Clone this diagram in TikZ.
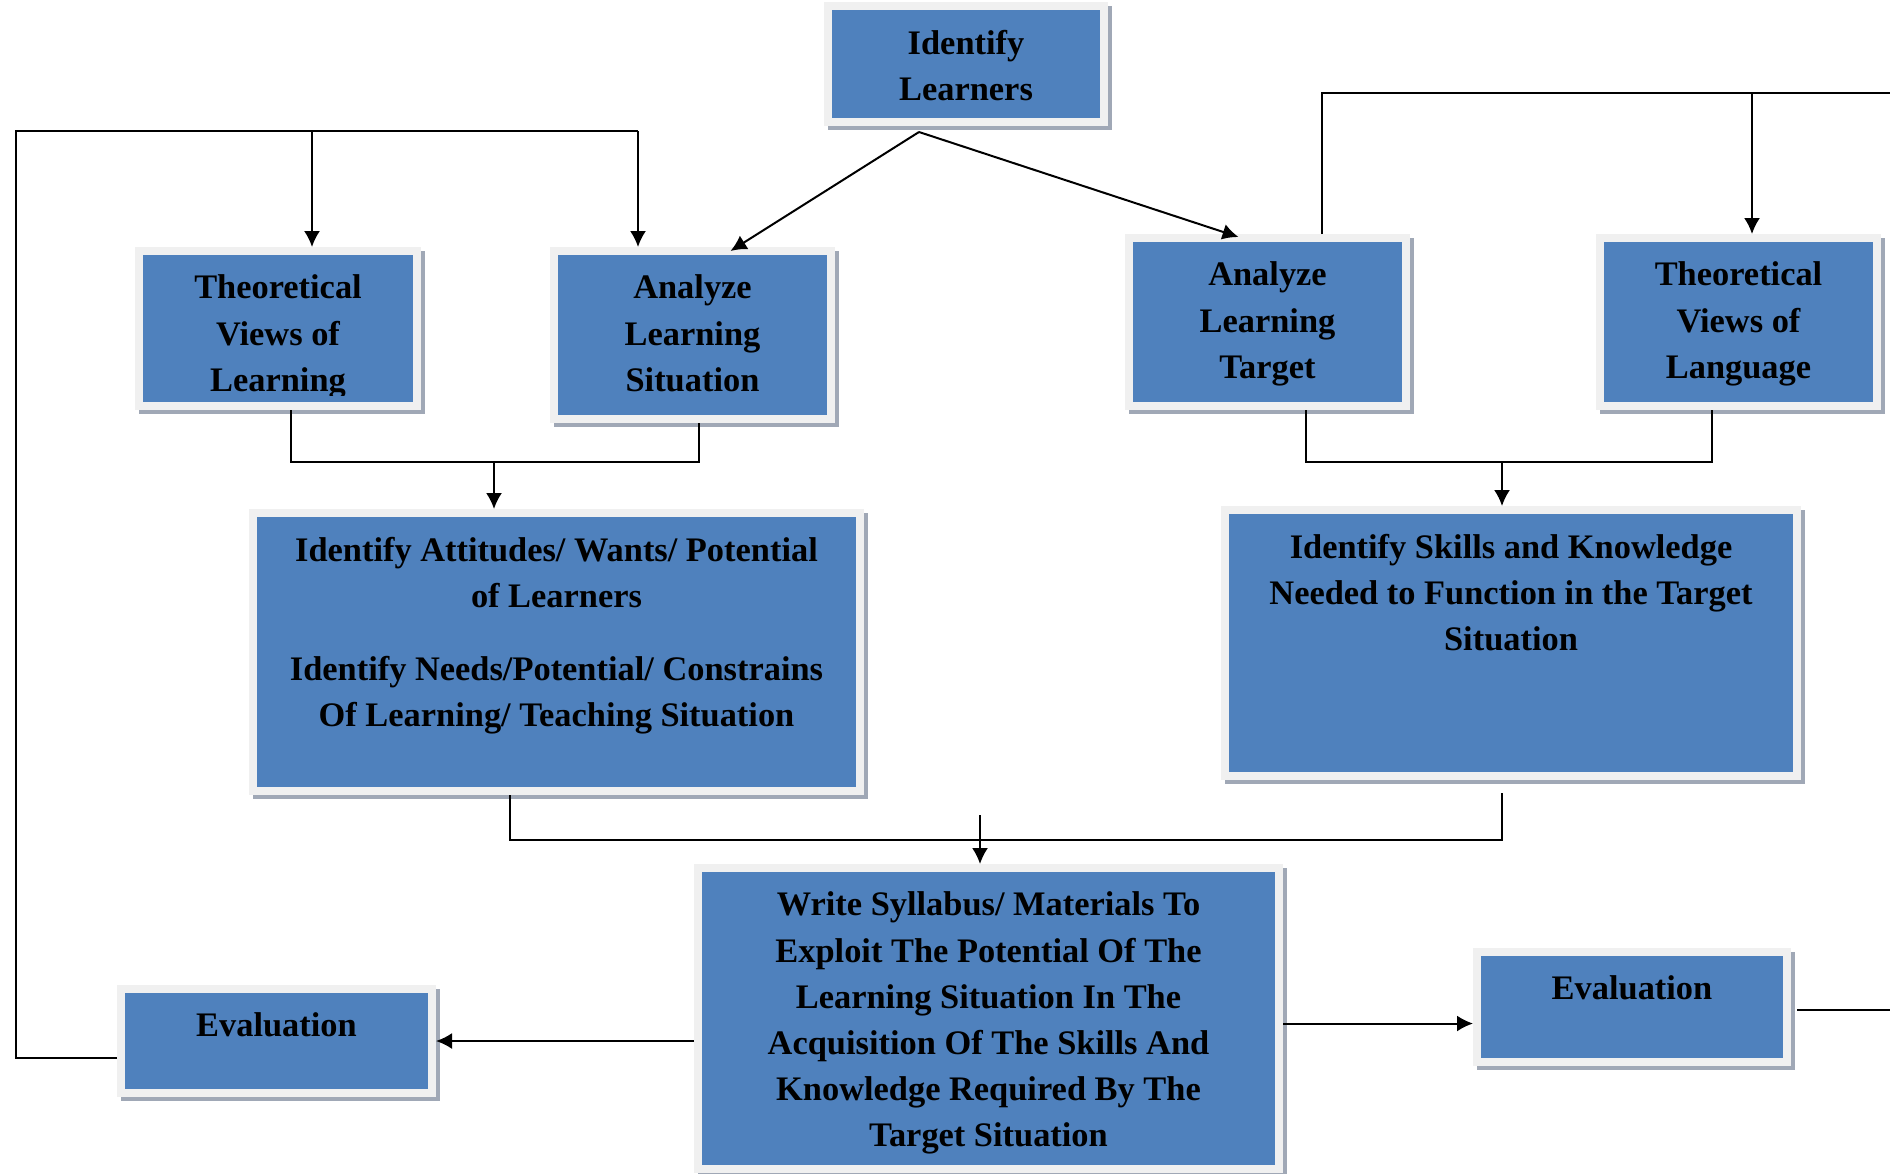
\documentclass[tikz,border=0pt]{standalone}
\usepackage{fontspec}
\setmainfont{Liberation Serif}
\usetikzlibrary{calc}
\usetikzlibrary{arrows.meta}
\usetikzlibrary{positioning}

\definecolor{boxblue}{RGB}{79,129,189}
\definecolor{boxframe}{RGB}{240,240,240}
\definecolor{boxshadow}{RGB}{160,168,182}

\tikzset{
 box/.style={rectangle, fill=boxblue, draw=boxframe, line width=4pt, inner sep=0,
  preaction={draw=boxshadow, fill=boxshadow, line width=4pt, transform canvas={shift={(2pt,-2pt)}}}},
 txt/.style={align=center, inner sep=0, outer sep=0, font=\fontsize{17.2}{23.1}\selectfont\bfseries},
 line/.style={black, line width=1pt},
 arr/.style={line, -{Latex[length=8pt,width=8pt]}},
}

\begin{document}
\begin{tikzpicture}[x=.5pt, y=-.5pt]
\useasboundingbox (0,0) rectangle (1898,1173);
% boxes
\node[box, minimum width=138pt, minimum height=58pt] (learners) at (966,64) {};
\node[box, minimum width=139pt, minimum height=77.5pt] (tvlearn) at (278,328.5) {};
\node[box, minimum width=138.5pt, minimum height=84pt] (alsit) at (692.5,335) {};
\node[box, minimum width=138.5pt, minimum height=84pt] (altarget) at (1267.5,322) {};
\node[box, minimum width=138.5pt, minimum height=84pt] (tvlang) at (1738.5,322) {};
\node[box, minimum width=303.5pt, minimum height=139pt] (attit) at (556.5,652) {};
\node[box, minimum width=286pt, minimum height=133pt] (skills) at (1511,643) {};
\node[box, minimum width=290.5pt, minimum height=150.5pt] (syll) at (988.5,1018.5) {};
\node[box, minimum width=155.5pt, minimum height=52pt] (evalL) at (276.5,1041) {};
\node[box, minimum width=155pt, minimum height=55pt] (evalR) at (1632,1007) {};

% texts
\node[txt, below=14pt of learners.north] (learners-t) {Identify\\Learners};
\begin{scope}
\clip (tvlearn.north west) rectangle ($(tvlearn.south east)+(0,-15)$);
\node[txt, below=14pt of tvlearn.north] (tvlearn-t) {Theoretical\\Views of\\Learning};
\end{scope}
\node[txt, below=14pt of alsit.north] (alsit-t) {Analyze\\Learning\\Situation};
\node[txt, below=14pt of altarget.north] (altarget-t) {Analyze\\Learning\\Target};
\node[txt, below=14pt of tvlang.north] (tvlang-t) {Theoretical\\Views of\\Language};
\node[txt, below=14pt of attit.north] (attit-t) {Identify Attitudes/ Wants/ Potential\\of Learners\\[13.4pt]Identify Needs/Potential/ Constrains\\Of Learning/ Teaching Situation};
\node[txt, below=14pt of skills.north] (skills-t) {Identify Skills and Knowledge\\Needed to Function in the Target\\Situation};
\node[txt, below=14pt of syll.north] (syll-t) {Write Syllabus/ Materials To\\Exploit The Potential Of The\\Learning Situation In The\\Acquisition Of The Skills And\\Knowledge Required By The\\Target Situation};
\node[txt, below=14pt of evalL.north] (evalL-t) {Evaluation};
\node[txt, below=14pt of evalR.north] (evalR-t) {Evaluation};

% from Identify Learners
\coordinate (apex) at (919,132);
\draw[arr] (apex) -- ($(alsit.north)+(38,4)$);
\draw[arr] (apex) -- ($(altarget.north)+(-29,3)$);

% left feedback loop
\coordinate (ltop) at (16,131);
\coordinate (lj1) at (312,131);
\coordinate (lj2) at (638,131);
\draw[line] ($(evalL.west)+(0,17)$) -| (ltop) -- (lj2);
\draw[arr] (lj1) -- (lj1 |- tvlearn.north);
\draw[arr] (lj2) -- (lj2 |- alsit.north);

% right feedback loop
\coordinate (rtop) at (1890,93);
\coordinate (rj) at (1752,93);
\coordinate (rend) at (1890,1010);
\draw[line] ($(altarget.north)+(54,0)$) |- (rtop);
\draw[arr] (rj) -- (rj |- tvlang.north);
\draw[line] ($(evalR.east)+(6,3)$) -- (rend);

% brackets
\coordinate (lb) at (494,462);
\draw[line] ($(tvlearn.south)+(13,0)$) |- ($(alsit.south)+(6,39)$) -- ($(alsit.south)+(6,0)$);
\draw[arr] (lb) -- (lb |- attit.north);
\coordinate (rb) at (1502,462);
\draw[line] ($(altarget.south)+(38,0)$) |- ($(tvlang.south)+(-27,52)$) -- ($(tvlang.south)+(-27,0)$);
\draw[arr] (rb) -- (rb |- skills.north);
\coordinate (mb) at (980,815);
\draw[line] ($(attit.south)+(-47,0)$) |- ($(skills.south)+(-9,60)$) -- ($(skills.south)+(-9,13)$);
\draw[arr] (mb) -- (mb |- syll.north);

% to the evaluations
\draw[arr] (evalL.east -| syll.west) -- (evalL.east);
\draw[arr] ($(syll.east)+(0,5)$) coordinate (se) -- (se -| evalR.west);
\end{tikzpicture}
\end{document}
